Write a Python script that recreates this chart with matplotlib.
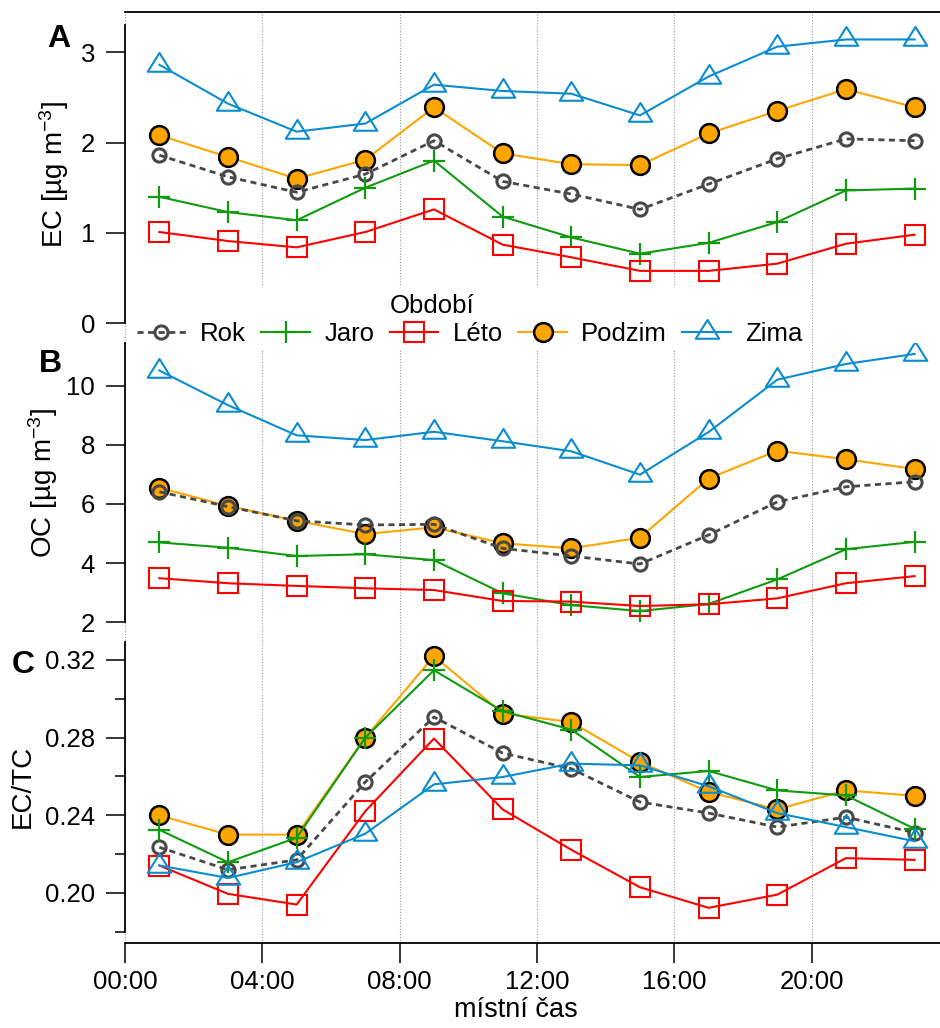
import matplotlib.pyplot as plt
from matplotlib.patches import Rectangle
from matplotlib.path import Path

plt.rcParams['font.family'] = ['Liberation Sans', 'DejaVu Sans']
plt.rcParams['mathtext.fontset'] = 'custom'
plt.rcParams['mathtext.rm'] = 'Liberation Sans'
plt.rcParams['mathtext.it'] = 'Liberation Sans:italic'
plt.rcParams['mathtext.bf'] = 'Liberation Sans:bold'

# hourly means, two-hour bins centred on odd hours
hours = [1, 3, 5, 7, 9, 11, 13, 15, 17, 19, 21, 23]
tick_hours = [0, 4, 8, 12, 16, 20]
tick_labels = ['00:00', '04:00', '08:00', '12:00', '16:00', '20:00']
names = ['Rok', 'Jaro', 'Léto', 'Podzim', 'Zima']

ec_rok = [1.86, 1.62, 1.45, 1.65, 2.02, 1.57, 1.43, 1.26, 1.54, 1.82, 2.04, 2.02]
ec_jaro = [1.40, 1.23, 1.14, 1.50, 1.80, 1.18, 0.95, 0.77, 0.89, 1.12, 1.47, 1.49]
ec_leto = [1.01, 0.91, 0.84, 1.01, 1.26, 0.87, 0.73, 0.58, 0.58, 0.66, 0.88, 0.98]
ec_podzim = [2.08, 1.84, 1.60, 1.81, 2.39, 1.88, 1.76, 1.75, 2.10, 2.35, 2.59, 2.39]
ec_zima = [2.86, 2.43, 2.12, 2.21, 2.64, 2.57, 2.54, 2.30, 2.73, 3.06, 3.14, 3.14]

oc_rok = [6.41, 5.91, 5.43, 5.29, 5.31, 4.50, 4.24, 3.97, 4.95, 6.07, 6.58, 6.75]
oc_jaro = [4.70, 4.52, 4.24, 4.30, 4.10, 2.98, 2.58, 2.38, 2.62, 3.45, 4.47, 4.72]
oc_leto = [3.49, 3.32, 3.23, 3.15, 3.09, 2.72, 2.70, 2.55, 2.61, 2.81, 3.32, 3.56]
oc_podzim = [6.55, 5.93, 5.43, 4.98, 5.21, 4.67, 4.50, 4.86, 6.86, 7.80, 7.51, 7.18]
oc_zima = [10.51, 9.34, 8.32, 8.16, 8.44, 8.12, 7.78, 6.99, 8.43, 10.20, 10.73, 11.07]

ectc_rok = [0.2235, 0.2119, 0.2170, 0.2571, 0.2906, 0.2720, 0.2640, 0.2468, 0.2411, 0.2339, 0.2390, 0.2310]
ectc_jaro = [0.2325, 0.2158, 0.2284, 0.2800, 0.3147, 0.2936, 0.2841, 0.2597, 0.2628, 0.2528, 0.2502, 0.2330]
ectc_leto = [0.2141, 0.1995, 0.1940, 0.2421, 0.2795, 0.2430, 0.2222, 0.2029, 0.1923, 0.1991, 0.2179, 0.2170]
ectc_podzim = [0.2399, 0.2300, 0.2300, 0.2800, 0.3220, 0.2924, 0.2880, 0.2674, 0.2520, 0.2430, 0.2528, 0.2500]
ectc_zima = [0.2141, 0.2077, 0.2158, 0.2305, 0.2559, 0.2597, 0.2666, 0.2657, 0.2549, 0.2411, 0.2339, 0.2266]

# triangle centred on its centroid
tri = Path([(0, 1.0667), (-1, -0.5333), (1, -0.5333), (0, 0)], closed=True)

styles = {
    'Rok': dict(color='#484848', ls=(0, (2.2, 1.6)), lw=2.0, marker='o', ms=9.5,
                mew=2.2, fillstyle='none'),
    'Jaro': dict(color='#109A10', ls='-', lw=1.5, marker='+', ms=16, mew=1.6),
    'Léto': dict(color='#FF0000', ls='-', lw=1.5, marker='s', ms=14, mew=1.5,
                 fillstyle='none'),
    'Podzim': dict(color='#FFA500', ls='-', lw=1.5, marker='o', ms=13.5,
                   mew=1.8, mfc='#FFA500', mec='black'),
    'Zima': dict(color='#0A8CD0', ls='-', lw=1.5, marker=tri, ms=18, mew=1.5,
                 fillstyle='none'),
}
draw_order = ['Podzim', 'Rok', 'Jaro', 'Léto', 'Zima']

W, H = 940, 1028
XMAX = 23.74
fig = plt.figure(figsize=(W / 100, H / 100), dpi=100)


def box(left, top, right, bottom):
    return [left / W, 1 - bottom / H, (right - left) / W, (bottom - top) / H]


# shared time axis with the dotted grid behind all panels
bg = fig.add_axes(box(125, 12, 940, 943.3))
bg.set_xlim(0, XMAX)
bg.set_ylim(0, 1)
bg.set_yticks([])
for s in ['left', 'right']:
    bg.spines[s].set_visible(False)
bg.spines['top'].set_linewidth(1.3)
bg.spines['bottom'].set_linewidth(1.3)
bg.set_xticks(tick_hours, tick_labels)
bg.tick_params(axis='x', direction='out', length=14.5, width=1.1,
               labelsize=18.5, pad=5)
bg.xaxis.grid(True, ls=(0, (1, 1.5)), color='#999999', lw=0.8)
bg.set_xlabel('místní čas', fontsize=19.5)
bg.xaxis.set_label_coords(0.48, -0.058)

panels = [
    (box(125, 25, 940, 323.3), (0, 3.30), [0, 1, 2, 3], [],
     {'Rok': ec_rok, 'Jaro': ec_jaro, 'Léto': ec_leto, 'Podzim': ec_podzim, 'Zima': ec_zima},
     'EC [µg m$^{-3}$]', -0.066, '%d'),
    (box(125, 342.7, 940, 622.3), (2, 11.45), [2, 4, 6, 8, 10], [],
     {'Rok': oc_rok, 'Jaro': oc_jaro, 'Léto': oc_leto, 'Podzim': oc_podzim, 'Zima': oc_zima},
     'OC [µg m$^{-3}$]', -0.080, '%d'),
    (box(125, 641.7, 940, 931.7), (0.18, 0.3294), [0.20, 0.24, 0.28, 0.32],
     [0.18, 0.22, 0.26, 0.30],
     {'Rok': ectc_rok, 'Jaro': ectc_jaro, 'Léto': ectc_leto, 'Podzim': ectc_podzim, 'Zima': ectc_zima},
     'EC/TC', -0.110, '%.2f'),
]

handles = {}
for rect, ylim, major, minor, data, ylabel, lx, fmt in panels:
    ax = fig.add_axes(rect)
    ax.patch.set_alpha(0)
    for name in draw_order:
        line, = ax.plot(hours, data[name], label=name, **styles[name])
        handles.setdefault(name, line)
    ax.set_xlim(0, XMAX)
    ax.set_ylim(*ylim)
    ax.set_xticks([])
    for s in ['top', 'right', 'bottom']:
        ax.spines[s].set_visible(False)
    ax.spines['left'].set_linewidth(1.3)
    ax.set_yticks(major, [fmt % v for v in major])
    ax.set_yticks(minor, minor=True)
    ax.tick_params(axis='y', which='major', direction='out', length=14,
                   width=1.1, labelsize=18.5, pad=7.5)
    ax.tick_params(axis='y', which='minor', direction='out', length=7,
                   width=1.1)
    ax.set_ylabel(ylabel, fontsize=20)
    ax.yaxis.set_label_coords(lx, 0.5)

# white block under the legend hides the grid there
fig.add_artist(Rectangle((130 / W, 1 - 350 / H), 678 / W, 64 / H,
                         transform=fig.transFigure, facecolor='white',
                         edgecolor='none', zorder=4))
fig.legend([handles[n] for n in names], names, loc='center left',
           bbox_to_anchor=(137 / W, 1 - 334 / H), ncol=5, frameon=False,
           fontsize=18.5, handlelength=1.9, handletextpad=0.55,
           columnspacing=0.6, borderpad=0, borderaxespad=0)
fig.text(432 / W, 1 - 313.3 / H, 'Období', ha='center', va='baseline',
         fontsize=18.5, zorder=6)

# panel letters
fig.text(47 / W, 1 - 47 / H, 'A', fontsize=23, fontweight='bold', va='baseline')
fig.text(39 / W, 1 - 372 / H, 'B', fontsize=23, fontweight='bold', va='baseline')
fig.text(12 / W, 1 - 673 / H, 'C', fontsize=23, fontweight='bold', va='baseline')

fig.savefig('out.png', dpi=100)
